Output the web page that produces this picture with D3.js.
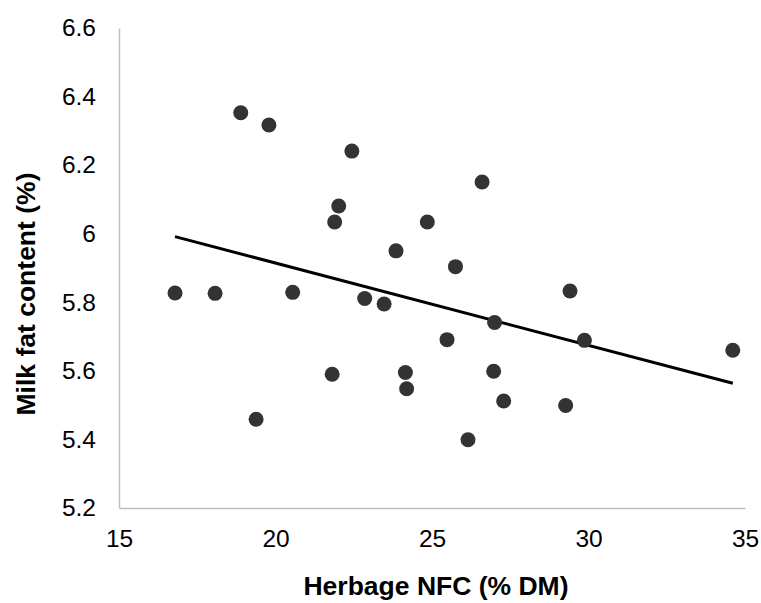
<!DOCTYPE html>
<html>
<head>
<meta charset="utf-8">
<script src="https://cdn.jsdelivr.net/npm/d3@7"></script>
<style>
  html, body { margin: 0; padding: 0; background: #fff; }
  svg { display: block; }
  text { font-family: "Liberation Sans", Arial, sans-serif; fill: #000; }
</style>
</head>
<body>
<svg id="chart" width="761" height="603"></svg>
<script>
// Data
const herbageNFC = [16.79, 18.07, 18.89, 19.38, 19.79, 20.55, 21.81, 21.89, 22.02, 22.44,
                    22.85, 23.47, 23.85, 24.15, 24.19, 24.85, 25.48, 25.75, 26.15, 26.60,
                    26.97, 27.00, 27.29, 29.27, 29.41, 29.87, 34.61];
const milkFat    = [5.827, 5.826, 6.353, 5.459, 6.317, 5.829, 5.590, 6.034, 6.081, 6.241,
                    5.811, 5.795, 5.950, 5.595, 5.548, 6.034, 5.691, 5.904, 5.399, 6.151,
                    5.599, 5.741, 5.512, 5.499, 5.833, 5.689, 5.660];
const xTicks = [15, 20, 25, 30, 35];
const yTicks = [5.2, 5.4, 5.6, 5.8, 6.0, 6.2, 6.4, 6.6];
const xTitle = "Herbage NFC (% DM)";
const yTitle = "Milk fat content (%)";

const svg = d3.select("#chart");
const x = d3.scaleLinear().domain([15, 35]).range([119, 745]);
const y = d3.scaleLinear().domain([5.2, 6.6]).range([508, 28]);

// Axes
const xAxis = d3.axisBottom(x).tickValues(xTicks).tickSize(0).tickPadding(22)
  .tickFormat(d3.format("d"));
const yAxis = d3.axisLeft(y).tickValues(yTicks).tickSize(0).tickPadding(23)
  .tickFormat(d => d === 6 ? "6" : d3.format(".1f")(d));

const gx = svg.append("g").attr("transform", `translate(0,${y(5.2)})`).call(xAxis);
const gy = svg.append("g").attr("transform", `translate(${x(15)},0)`).call(yAxis);
[gx, gy].forEach(g => {
  g.select(".domain").attr("stroke", "#bfbfbf").attr("stroke-width", 1.5);
  g.selectAll("text").attr("font-family", "'Liberation Sans', Arial, sans-serif")
    .attr("font-size", 24.5).attr("fill", "#000");
});

// Trend line (least squares from data)
const n = herbageNFC.length;
const mx = d3.mean(herbageNFC), my = d3.mean(milkFat);
let sxy = 0, sxx = 0;
for (let i = 0; i < n; i++) {
  sxy += (herbageNFC[i] - mx) * (milkFat[i] - my);
  sxx += (herbageNFC[i] - mx) ** 2;
}
const slope = sxy / sxx, intercept = my - slope * mx;
const x0 = d3.min(herbageNFC), x1 = d3.max(herbageNFC);
svg.append("line")
  .attr("x1", x(x0)).attr("y1", y(intercept + slope * x0))
  .attr("x2", x(x1)).attr("y2", y(intercept + slope * x1))
  .attr("stroke", "#000").attr("stroke-width", 3);

// Points
svg.append("g").selectAll("circle")
  .data(d3.range(n))
  .join("circle")
  .attr("cx", i => x(herbageNFC[i]))
  .attr("cy", i => y(milkFat[i]))
  .attr("r", 7.5)
  .attr("fill", "#333333");

// Axis titles
svg.append("text")
  .attr("x", 436).attr("y", 595)
  .attr("text-anchor", "middle")
  .attr("font-size", 26.5).attr("font-weight", "bold")
  .text(xTitle);

svg.append("text")
  .attr("transform", `translate(35,294) rotate(-90)`)
  .attr("text-anchor", "middle")
  .attr("font-size", 26.5).attr("font-weight", "bold")
  .text(yTitle);
</script>
</body>
</html>
